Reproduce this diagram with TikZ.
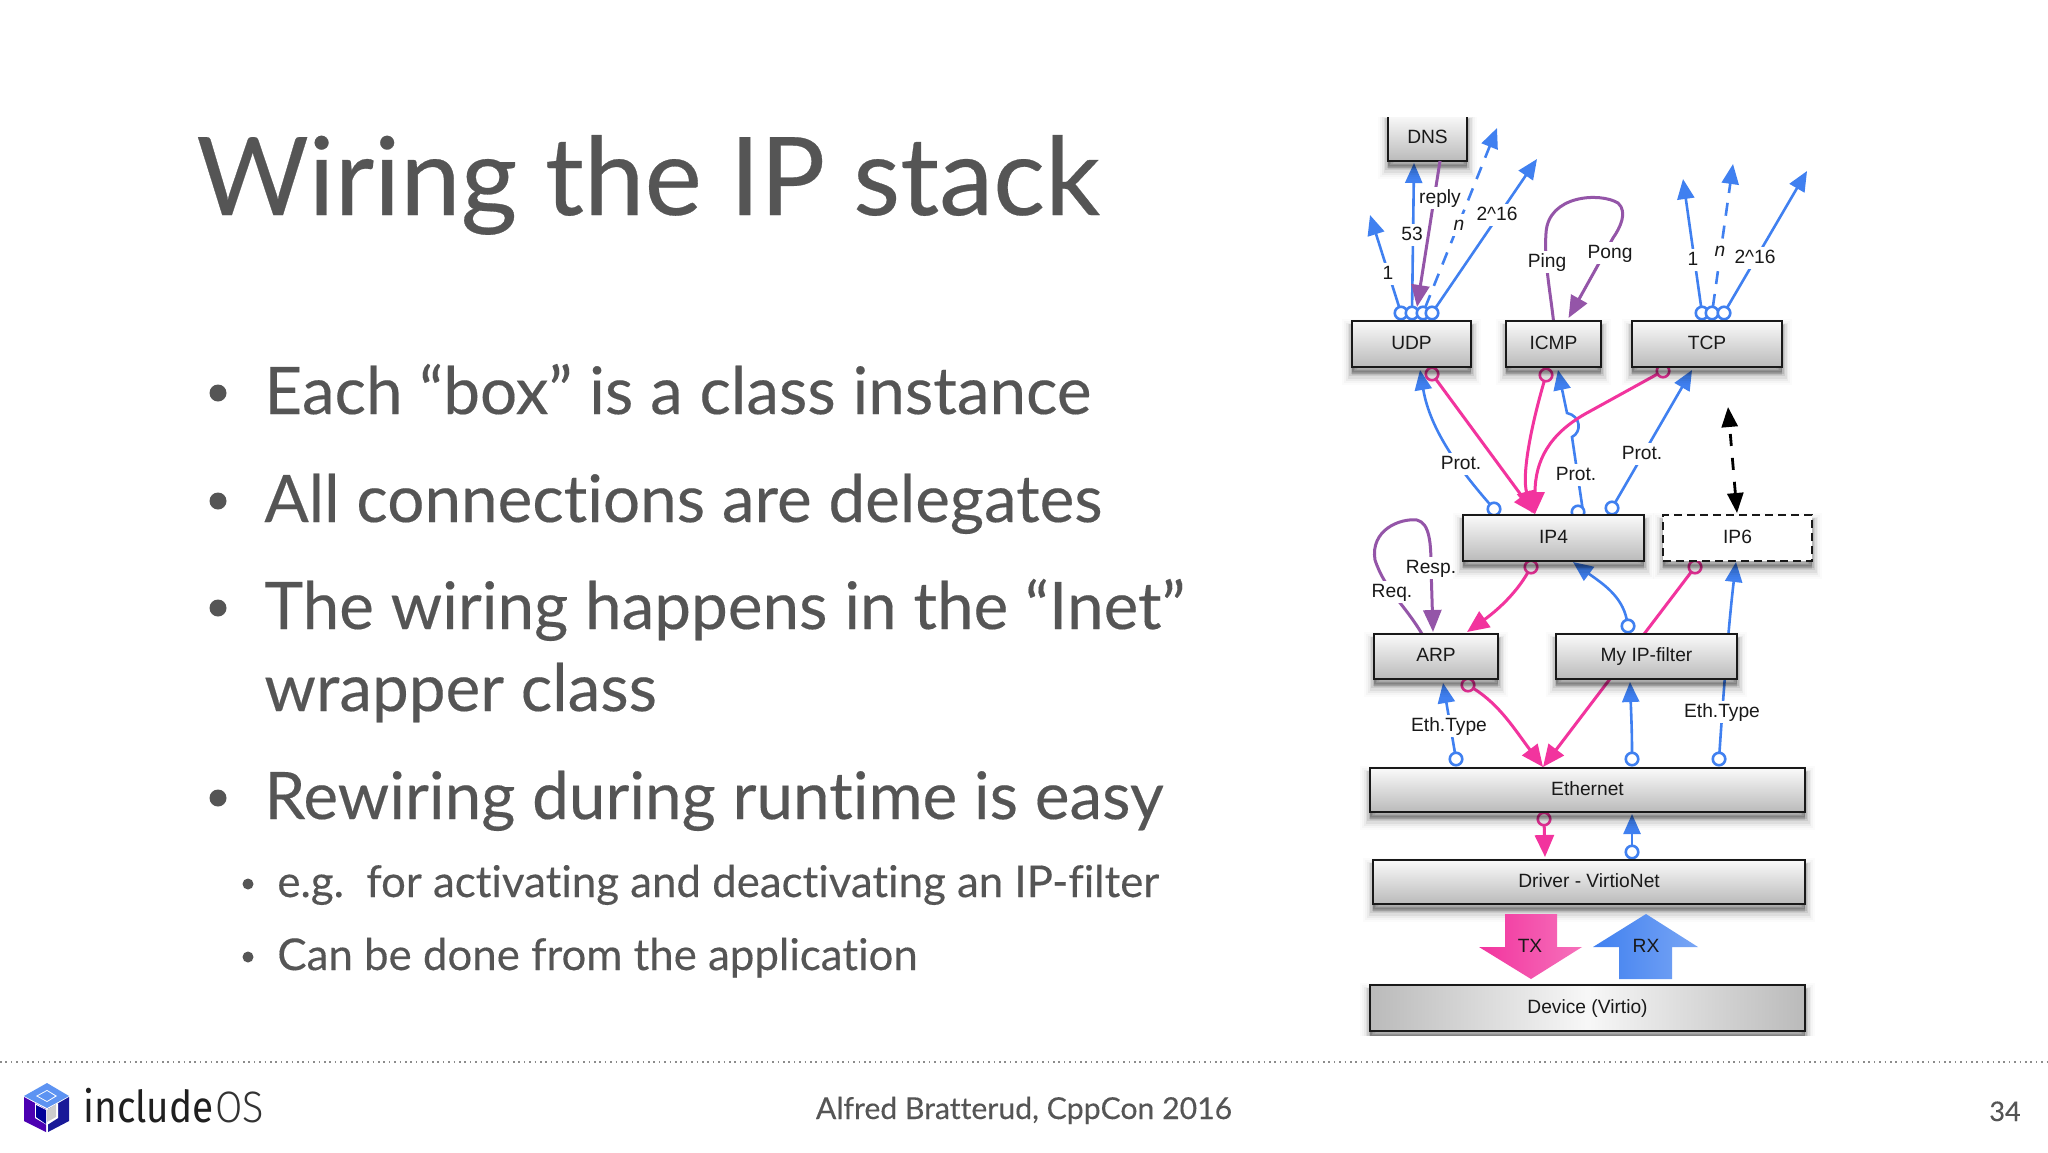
\documentclass[tikz,border=0pt]{standalone}
\usepackage{fontspec}
\usetikzlibrary{arrows.meta,backgrounds,calc}
\setmainfont{Liberation Sans}
\newfontfamily\slidefont[Ligatures=NoCommon,FakeBold=0.25]{Lato}
\newfontfamily\logofont[FakeStretch=0.88]{Fira Sans}
\newfontfamily\oslogo[FakeStretch=0.9]{Fira Sans Light}
\definecolor{inkgray}{HTML}{555555}
\definecolor{pinkc}{HTML}{F2349E}
\definecolor{bluec}{HTML}{4080F0}
\definecolor{purplec}{HTML}{9455A8}
\tikzset{
  x=0.5pt,y=-0.5pt,
  softshadow/.style={
    preaction={solid,fill=black,draw=black,line width=10pt,opacity=.015,transform canvas={yshift=-4pt}},
    preaction={solid,fill=black,draw=black,line width=8pt,opacity=.025,transform canvas={yshift=-4pt}},
    preaction={solid,fill=black,draw=black,line width=6pt,opacity=.04,transform canvas={yshift=-4pt}},
    preaction={solid,fill=black,draw=black,line width=4.5pt,opacity=.06,transform canvas={yshift=-3.5pt}},
    preaction={solid,fill=black,draw=black,line width=3pt,opacity=.08,transform canvas={yshift=-3pt}},
    preaction={solid,fill=black,draw=black,line width=1.5pt,opacity=.1,transform canvas={yshift=-2.5pt}}},
  boxbase/.style={draw=black!90,line width=0.8pt,inner sep=0pt,outer sep=0pt,text=black!90,font=\fontsize{9.6}{11}\selectfont,text height=7pt,text depth=2pt,softshadow},
  wh/.style 2 args={minimum width=#1*0.5pt,minimum height=#2*0.5pt},
  layerbox/.style={boxbase,top color=black!2,bottom color=black!27},
  dashbox/.style={boxbase,fill=white,dashed,dash pattern=on 4pt off 2.5pt},
  devbox/.style={boxbase,left color=black!27,right color=black!27,middle color=black!3},
  bport/.style={circle,draw=bluec,fill=white,line width=1.3pt,minimum size=12.5*0.5pt,inner sep=0pt,outer sep=0pt},
  pport/.style={bport,draw=pinkc},
  lbl/.style={fill=white,inner sep=1pt,text=black!90,font=\fontsize{9.6}{11}\selectfont,text height=7pt,text depth=2pt},
  blueline/.style={draw=bluec,line width=1.3pt,-{Triangle[length=10pt,width=8.5pt]}},
  pinkline/.style={draw=pinkc,line width=1.5pt,-{Triangle[length=11pt,width=9.5pt]}},
  purpleline/.style={draw=purplec,line width=1.5pt,-{Triangle[length=11pt,width=9pt]}},
  longdash/.style={dash pattern=on 6.5pt off 5pt},
  blacktwo/.style={draw=black,line width=1.4pt,dash pattern=on 6pt off 6pt,{Triangle[length=10pt,width=8pt]}-{Triangle[length=10pt,width=8pt]}},
  slidetxt/.style={anchor=base west,inner sep=0pt,text=inkgray},
  bigdot/.style={circle,fill=inkgray,inner sep=0pt,minimum size=17*0.5pt},
  smalldot/.style={circle,fill=inkgray,inner sep=0pt,minimum size=11*0.5pt},
}
\begin{document}
\begin{tikzpicture}
\useasboundingbox (0,0) rectangle (2048,1152);
\begin{scope}[on background layer]
\fill[white] (0,0) rectangle (2048,1152);
\end{scope}

% slide text
\node[slidetxt,font=\slidefont\fontsize{54.3}{60}\selectfont] (title) at (196,215) {Wiring the IP stack};
\node[bigdot] (d1) at (218,393) {};
\node[slidetxt,font=\slidefont\fontsize{32.8}{38}\selectfont] (t1) at (264,414) {Each “box” is a class instance};
\node[bigdot] (d2) at (218,501) {};
\node[slidetxt,font=\slidefont\fontsize{32.8}{38}\selectfont] (t2) at (264,522) {All connections are delegates};
\node[bigdot] (d3) at (218,608) {};
\node[slidetxt,font=\slidefont\fontsize{32.8}{38}\selectfont] (t3) at (264,629) {The wiring happens in the “Inet”};
\node[slidetxt,font=\slidefont\fontsize{32.8}{38}\selectfont] (t3b) at (264,711) {wrapper class};
\node[bigdot] (d4) at (218,798) {};
\node[slidetxt,font=\slidefont\fontsize{32.8}{38}\selectfont] (t4) at (264,819) {Rewiring during runtime is easy};
\node[smalldot] (d5) at (248,884) {};
\node[slidetxt,font=\slidefont\fontsize{21.9}{28}\selectfont] (t5) at (277,897) {e.g.\ \ for activating and deactivating an IP-filter};
\node[smalldot] (d6) at (248,957) {};
\node[slidetxt,font=\slidefont\fontsize{21.9}{28}\selectfont] (t6) at (277,970) {Can be done from the application};

% footer
\coordinate (fl) at (0,1062);
\coordinate (fr) at (2048,1062);
\draw[black!45,line width=0.8pt,dash pattern=on 0.8pt off 1.9pt] (fl) -- (fr);
\node[slidetxt,font=\slidefont\fontsize{15.1}{20}\selectfont,anchor=base] (foot) at (1024,1119) {Alfred Bratterud, CppCon 2016};
\node[slidetxt,font=\slidefont\fontsize{13.5}{16}\selectfont,anchor=base] (pg) at (2005,1121) {34};

% logo
\fill[bluec!85!white] (47,1083) -- (69,1096) -- (47,1108) -- (24,1096) -- cycle;
\fill[white] (47,1090) -- (57,1096) -- (47,1102) -- (36,1096) -- cycle;
\fill[bluec!85!white] (47,1091) -- (55,1096) -- (47,1101) -- (38,1096) -- cycle;
\fill[violet!60!blue] (24,1097) -- (46,1109) -- (46,1132) -- (24,1121) -- cycle;
\fill[blue!55!black!90!white] (48,1109) -- (69,1097) -- (69,1121) -- (48,1132) -- cycle;
\fill[white] (35,1103) -- (47,1110) -- (58,1103) -- (58,1118) -- (47,1125) -- (35,1118) -- cycle;
\fill[blue!60!black] (36,1105) -- (46,1110) -- (46,1124) -- (36,1117) -- cycle;
\fill[black!20] (47,1110) -- (56,1104) -- (56,1117) -- (47,1122) -- cycle;
\node[anchor=base west,inner sep=0pt,text=black!88,font=\logofont\fontsize{22}{28}\selectfont] (inc) at (83,1122) {include};
\node[anchor=base west,inner sep=0pt,text=black!80,font=\oslogo\fontsize{22}{28}\selectfont] (os) at (215,1122) {OS};

% ports (drawn before the boxes, which cover them partly)
\node[bport] (u1) at (1401,313) {};
\node[bport] (u2) at (1412,313) {};
\node[bport] (u3) at (1423,313) {};
\node[bport] (u4) at (1432,313) {};
\node[bport] (c1) at (1702,313) {};
\node[bport] (c2) at (1712,313) {};
\node[bport] (c3) at (1724,313) {};
\node[pport] (up) at (1432,374) {};
\node[pport] (ip) at (1546,375) {};
\node[pport] (tp) at (1663,371) {};
\node[bport] (i1) at (1494,509) {};
\node[bport] (i2) at (1578,512) {};
\node[bport] (i3) at (1612,508) {};
\node[pport] (i4) at (1531,567) {};
\node[pport] (i6) at (1695,567) {};
\node[bport] (m1) at (1628,626) {};
\node[pport] (a1) at (1468,685) {};
\node[bport] (e1) at (1456,759) {};
\node[bport] (e2) at (1632,759) {};
\node[bport] (e3) at (1719,759) {};
\node[pport] (e4) at (1544,819) {};
\node[bport] (v1) at (1632,852) {};

% boxes
\node[layerbox,wh={79}{46}] (dns) at (1427.5,138) {DNS};
\fill[white] (1340,90) rectangle (1496,117);
\node[layerbox,wh={119}{46}] (udp) at (1411.5,344) {UDP};
\node[layerbox,wh={95}{46}] (icmp) at (1553.5,344) {ICMP};
\node[layerbox,wh={150}{46}] (tcp) at (1707,344) {TCP};
\node[layerbox,wh={181}{46}] (ip4) at (1553.5,538) {IP4};
\node[dashbox,wh={149}{46}] (ip6) at (1737.5,538) {IP6};
\node[layerbox,wh={124}{45}] (arp) at (1436,656.5) {ARP};
\node[layerbox,wh={181}{45}] (myip) at (1646.5,656.5) {My IP-filter};
\node[layerbox,wh={435}{44}] (eth) at (1587.5,790) {Ethernet};
\node[layerbox,wh={432}{44}] (drv) at (1589,882) {Driver - VirtioNet};
\node[devbox,wh={435}{46}] (dev) at (1587.5,1008) {Device (Virtio)};
\fill[white] (1340,1036) rectangle (1830,1052);

% big arrows
\shade[left color=pinkc,right color=pinkc!70!white] (1505,914) -- (1557,914) -- (1557,947) -- (1582,947) -- (1531,979) -- (1479,947) -- (1505,947) -- cycle;
\shade[left color=bluec,right color=bluec!70!white] (1646,914) -- (1698,947) -- (1672,947) -- (1672,979) -- (1619,979) -- (1619,947) -- (1593,947) -- cycle;
\node[lbl,fill=none] (tx) at (1530,947) {TX};
\node[lbl,fill=none] (rx) at (1646,947) {RX};

% free ends of the connectors
\coordinate (t1a) at (1370,215);
\coordinate (t53) at (1414,163);
\coordinate (tn) at (1497,128);
\coordinate (t216) at (1537,159);
\coordinate (tc1) at (1683,179);
\coordinate (tcn) at (1733,164);
\coordinate (tc216) at (1807,171);
\coordinate (tudp) at (1420,370);
\coordinate (ticmp) at (1558,370);
\coordinate (ttcp) at (1692,370);
\coordinate (tip4a) at (1535,514);
\coordinate (tip4b) at (1532,513);
\coordinate (tarp) at (1467,632);
\coordinate (tip4c) at (1573,562);
\coordinate (tip6) at (1736,562);
\coordinate (tarpb) at (1443,683);
\coordinate (teth) at (1543,767);
\coordinate (tmy) at (1630,682);
\coordinate (tdrv) at (1545,857);
\coordinate (teb) at (1632,814);
\coordinate (tb1) at (1737,513);
\coordinate (tb2) at (1728,407);

\begin{pgfonlayer}{background}
\draw[blueline] (u1) -- (t1a);
\draw[blueline] (u2) -- (t53);
\draw[blueline,longdash] (u3) -- (tn);
\draw[blueline] (u4) -- (t216);
\draw[blueline] (c1) -- (tc1);
\draw[blueline,longdash] (c2) -- (tcn);
\draw[blueline] (c3) -- (tc216);
\draw[purpleline] (icmp.north) .. controls (1550,290) and (1544,260) .. (1546,233) .. controls (1548,195) and (1600,192) .. (1618,203) .. controls (1628,212) and (1620,228) .. (1613,238) -- ($(icmp.north)+(15,-3)$);
\draw[blueline] (i1) .. controls (1460,470) and (1430,430) .. (tudp);
\draw[blueline] (i2.north east) -- (1572,437) .. controls (1582,432) and (1581,416) .. (1567,413) -- (ticmp);
\draw[blueline] (i3) -- (ttcp);
\draw[pinkline] (up) -- (tip4a);
\draw[pinkline] (ip) .. controls (1530,430) and (1522,475) .. (tip4b);
\draw[pinkline] (tp) -- (1585,414) .. controls (1550,434) and (1535,460) .. (tip4a);
\draw[blacktwo] (tb1) -- (tb2);
\draw[pinkline] (i4) .. controls (1515,595) and (1495,612) .. (tarp);
\draw[blueline] (m1) .. controls (1622,595) and (1600,582) .. (tip4c);
\draw[pinkline] (i6) -- (teth);
\draw[blueline] (e3) .. controls (1723,700) and (1728,630) .. (tip6);
\draw[purpleline] (arp.north -| 1422,0) .. controls (1405,605) and (1385,590) .. (1375,560) .. controls (1370,530) and (1400,518) .. (1417,520) .. controls (1430,523) and (1431,545) .. (1431,567) -- (1433,632);
\draw[blueline] (e1) -- (tarpb);
\draw[pinkline] (a1) .. controls (1500,705) and (1515,730) .. (teth);
\draw[blueline] (e2) .. controls (1632,730) and (1631,710) .. (tmy);
\draw[pinkline] (e4) -- (tdrv);
\draw[blueline] (v1) -- (teb);

\node[lbl] (l1) at (1388,274) {1};
\node[lbl] (l53) at (1412,235) {53};
\node[lbl] (ln) at (1459,225) {\itshape n};
\node[lbl] (l216) at (1497,215) {2\^{}16};
\node[lbl] (lc1) at (1693,260) {1};
\node[lbl] (lcn) at (1720,251) {\itshape n};
\node[lbl] (lc216) at (1755,258) {2\^{}16};
\node[lbl] (lping) at (1547,262) {Ping};
\node[lbl] (lpong) at (1610,253) {Pong};
\node[lbl] (lp1) at (1461,464) {Prot.};
\node[lbl] (lp2) at (1576,475) {Prot.};
\node[lbl] (lp3) at (1642,454) {Prot.};
\node[lbl] (lresp) at (1431,568) {Resp.};
\node[lbl] (lreq) at (1392,592) {Req.};
\node[lbl] (le1) at (1449,726) {Eth.Type};
\node[lbl] (le2) at (1722,712) {Eth.Type};
\end{pgfonlayer}

% DNS reply, over the UDP ports
\draw[purpleline] (dns.south -| 1440,0) -- (1417,307);
\node[lbl] (lreply) at (1440,198) {reply};
\end{tikzpicture}
\end{document}
